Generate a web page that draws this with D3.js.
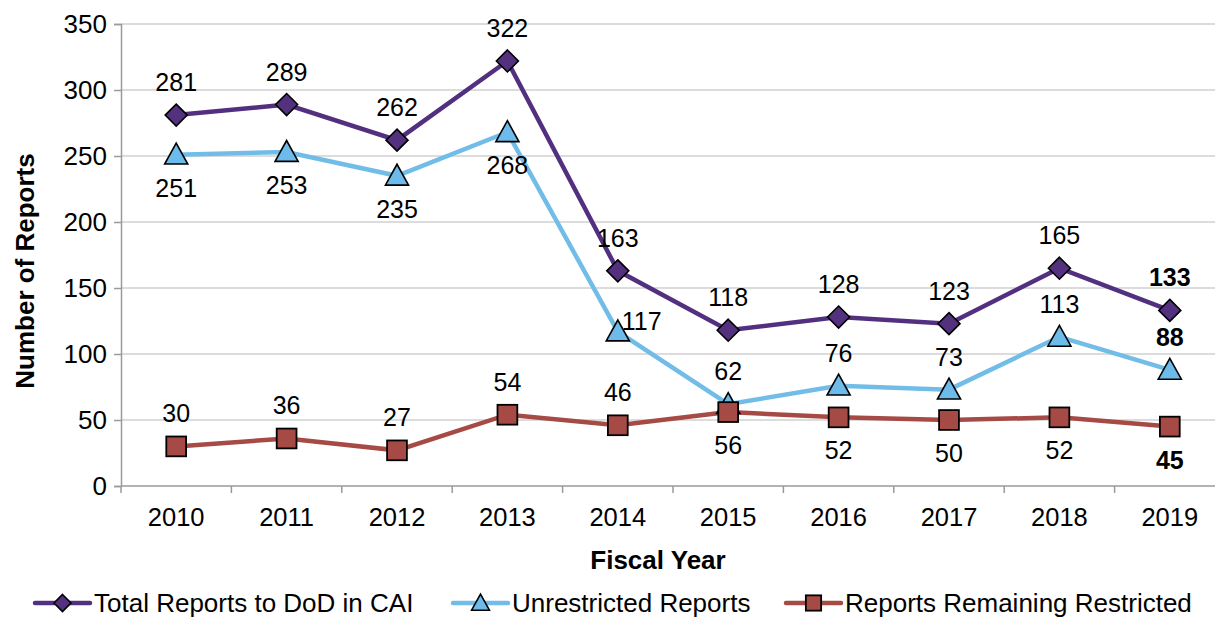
<!DOCTYPE html>
<html>
<head>
<meta charset="utf-8">
<script src="https://cdn.jsdelivr.net/npm/d3@7"></script>
<style>
  body { margin: 0; background: #fff; }
  svg { display: block; font-family: "Liberation Sans", Arial, sans-serif; }
</style>
</head>
<body>
<div id="chart"></div>
<script>
// data
var years = ["2010","2011","2012","2013","2014","2015","2016","2017","2018","2019"];
var totalReports = [281, 289, 262, 322, 163, 118, 128, 123, 165, 133];
var unrestricted = [251, 253, 235, 268, 117, 62, 76, 73, 113, 88];
var restricted = [30, 36, 27, 54, 46, 56, 52, 50, 52, 45];
var yTicks = [0, 50, 100, 150, 200, 250, 300, 350];
var seriesNames = ["Total Reports to DoD in CAI", "Unrestricted Reports", "Reports Remaining Restricted"];

// where each data label sits relative to its point
var totalPos = ["a","a","a","a","a","a","a","a","a","a"];
var unrPos = ["b","b","b","b","r","a","a","a","a","a"];
var resPos = ["a","a","a","a","a","b","b","b","b","b"];

var width = 1215, height = 618;
var margin = {top: 24, right: -10, bottom: 132, left: 121};

var svg = d3.select("#chart").append("svg")
    .attr("width", width)
    .attr("height", height);

var x = d3.scaleBand()
    .domain(years)
    .range([margin.left, width - margin.right])
    .padding(0);

var y = d3.scaleLinear()
    .domain([0, 350])
    .range([height - margin.bottom, margin.top]);

var cx = function(i) { return x(years[i]) + x.bandwidth() / 2; };

// gridlines
svg.append("g")
  .selectAll("line")
  .data(yTicks.filter(function(d) { return d > 0; }))
  .enter().append("line")
    .attr("x1", margin.left)
    .attr("x2", width - margin.right)
    .attr("y1", function(d) { return y(d); })
    .attr("y2", function(d) { return y(d); })
    .attr("stroke", "#d0d0d0")
    .attr("stroke-width", 1.3);

// y axis
var yAxis = svg.append("g")
    .attr("transform", "translate(" + margin.left + ",0)")
    .call(d3.axisLeft(y).tickValues(yTicks).tickSize(7).tickPadding(7));
yAxis.select(".domain").attr("stroke", "#9a9a9a").attr("stroke-width", 1.5);
yAxis.selectAll(".tick line").attr("stroke", "#9a9a9a").attr("stroke-width", 1.5);
yAxis.selectAll(".tick text")
    .style("font-size", "26px")
    .attr("fill", "#000");

// x axis: tick marks on the band edges, labels at band centres
var xAxis = svg.append("g")
    .attr("transform", "translate(0," + y(0) + ")");
xAxis.append("line")
    .attr("x1", margin.left)
    .attr("x2", width - margin.right)
    .attr("stroke", "#9a9a9a")
    .attr("stroke-width", 1.5);
xAxis.selectAll(".edge")
  .data(years.concat(["end"]))
  .enter().append("line")
    .attr("class", "edge")
    .attr("x1", function(d, i) { return margin.left + i * x.bandwidth(); })
    .attr("x2", function(d, i) { return margin.left + i * x.bandwidth(); })
    .attr("y1", 0)
    .attr("y2", 7)
    .attr("stroke", "#9a9a9a")
    .attr("stroke-width", 1.5);
xAxis.selectAll(".lbl")
  .data(years)
  .enter().append("text")
    .attr("class", "lbl")
    .attr("x", function(d) { return x(d) + x.bandwidth() / 2; })
    .attr("y", 40)
    .attr("text-anchor", "middle")
    .style("font-size", "25.5px")
    .text(function(d) { return d; });

// axis titles
svg.append("text")
    .attr("x", 658)
    .attr("y", 569)
    .attr("text-anchor", "middle")
    .style("font-size", "26px")
    .style("font-weight", "bold")
    .text("Fiscal Year");

svg.append("text")
    .attr("transform", "translate(34," + 271 + ") rotate(-90)")
    .attr("text-anchor", "middle")
    .style("font-size", "26px")
    .style("font-weight", "bold")
    .text("Number of Reports");

var series = [
  {name: seriesNames[0], values: totalReports, color: "#52307f", fill: "#54317f", shape: "diamond", pos: totalPos},
  {name: seriesNames[1], values: unrestricted, color: "#72bde8", fill: "#6dbbea", shape: "triangle", pos: unrPos},
  {name: seriesNames[2], values: restricted, color: "#a64a45", fill: "#a54a45", shape: "square", pos: resPos}
];

function marker(g, shape, s, fill) {
  if (shape === "diamond") {
    g.append("path")
      .attr("d", "M0," + (-s) + "L" + s + ",0L0," + s + "L" + (-s) + ",0Z")
      .attr("fill", fill).attr("stroke", "#000").attr("stroke-width", 1.6);
  } else if (shape === "triangle") {
    g.append("path")
      .attr("d", "M0," + (-s * 1.05) + "L" + (s * 1.05) + "," + (s * 0.85) + "L" + (-s * 1.05) + "," + (s * 0.85) + "Z")
      .attr("fill", fill).attr("stroke", "#000").attr("stroke-width", 1.6);
  } else {
    g.append("rect")
      .attr("x", -s * 0.9).attr("y", -s * 0.9)
      .attr("width", s * 1.8).attr("height", s * 1.8)
      .attr("fill", fill).attr("stroke", "#000").attr("stroke-width", 1.8);
  }
}

var line = d3.line()
    .x(function(d, i) { return cx(i); })
    .y(function(d) { return y(d); });

series.forEach(function(s) {
  svg.append("path")
    .datum(s.values)
    .attr("d", line)
    .attr("fill", "none")
    .attr("stroke", s.color)
    .attr("stroke-width", 4.5);
});

series.forEach(function(s) {
  s.values.forEach(function(v, i) {
    var g = svg.append("g")
      .attr("transform", "translate(" + cx(i) + "," + y(v) + ")");
    marker(g, s.shape, 11, s.fill);
  });
});

// data labels
series.forEach(function(s) {
  s.values.forEach(function(v, i) {
    var p = s.pos[i];
    var t = svg.append("text")
      .style("font-size", "25px")
      .style("font-weight", i === years.length - 1 ? "bold" : "normal")
      .text(v);
    if (p === "a") {
      t.attr("x", cx(i)).attr("y", y(v) - 24).attr("text-anchor", "middle");
    } else if (p === "b") {
      t.attr("x", cx(i)).attr("y", y(v) + 42).attr("text-anchor", "middle");
    } else {
      t.attr("x", cx(i) + 4).attr("y", y(v) - 2).attr("text-anchor", "start");
    }
  });
});

// legend
var legendX = [35, 453, 786];
var legend = svg.append("g").attr("transform", "translate(0,603)");
series.forEach(function(s, i) {
  var g = legend.append("g").attr("transform", "translate(" + legendX[i] + ",0)");
  g.append("line")
    .attr("x1", 0).attr("x2", 55)
    .attr("stroke", s.color)
    .attr("stroke-width", 4.5)
    .attr("stroke-linecap", "round");
  var m = g.append("g").attr("transform", "translate(27.5,0)");
  marker(m, s.shape, 8.5, s.fill);
  g.append("text")
    .attr("x", 59)
    .attr("y", 9)
    .style("font-size", "26px")
    .text(s.name);
});
</script>
</body>
</html>
